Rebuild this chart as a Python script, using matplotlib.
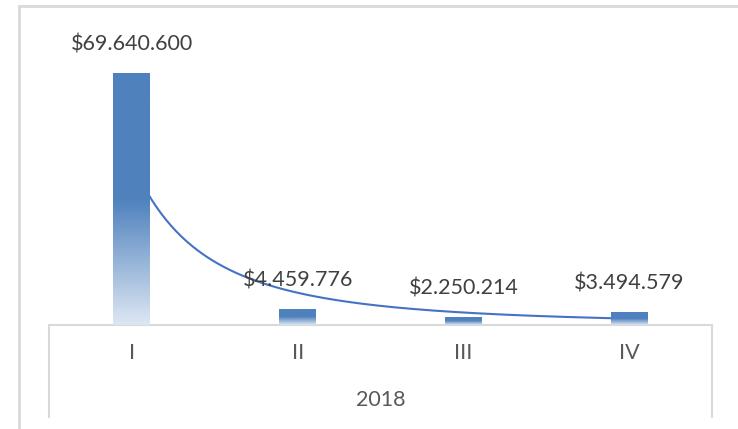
import numpy as np
import matplotlib
matplotlib.use('Agg')
import matplotlib.pyplot as plt
from matplotlib.colors import LinearSegmentedColormap
from matplotlib.lines import Line2D

# quarterly values, 2018
quarters = ['I', 'II', 'III', 'IV']
year_label = '2018'
values = [69640600, 4459776, 2250214, 3494579]
value_labels = ['$69.640.600', '$4.459.776', '$2.250.214', '$3.494.579']

plt.rcParams['font.family'] = ['Lato', 'DejaVu Sans']

W, H = 738, 429
fig = plt.figure(figsize=(W / 100, H / 100), dpi=100)

# plot area: x 49..712 px, y 20..325 px (from top)
ax_left, ax_right, ax_top, ax_bottom = 49, 712, 20, 325
ax = fig.add_axes([ax_left / W, (H - ax_bottom) / H,
                   (ax_right - ax_left) / W, (ax_bottom - ax_top) / H])

x = np.arange(len(quarters))
bar_w = 0.223
ymax = 84.3e6

solid = '#4f81bd'
pale = '#dde7f3'
cmap = LinearSegmentedColormap.from_list('grad', [(0, pale), (0.5, solid), (1, solid)])
grad = np.linspace(0, 1, 256).reshape(-1, 1)

bars = ax.bar(x, values, width=bar_w, color='none', edgecolor='none', zorder=3)
for b in bars:
    x0 = b.get_x()
    h = b.get_height()
    im = ax.imshow(grad, cmap=cmap, origin='lower', aspect='auto',
                   extent=[x0, x0 + b.get_width(), 0, h], zorder=3)
    im.set_clip_path(b)

# power trendline (Excel style), categories numbered 1..4
n = x + 1
coef = np.polyfit(np.log(n), np.log(values), 1)
tx = np.linspace(1, 4, 300)
ty = np.exp(coef[1]) * tx ** coef[0]
ax.plot(tx - 1, ty, color='#4472c4', lw=1.5, zorder=2)

fs = 15.5
for xi, v, lab in zip(x, values, value_labels):
    ax.annotate(lab, (xi, v), xytext=(0, 20.5), textcoords='offset points',
                ha='center', va='center', fontsize=fs, color='#404040', zorder=5)

ax.set_xlim(-0.5, len(quarters) - 0.5)
ax.set_ylim(0, ymax)
ax.set_xticks([])
ax.set_yticks([])
for s in ['top', 'left', 'right', 'bottom']:
    ax.spines[s].set_visible(False)

grey = '#d9d9d9'
frac = ax_bottom - ax_top
box_low = (ax_bottom - 417) / frac
ax.plot([0, 1], [0, 0], transform=ax.transAxes, color=grey, lw=1.5, clip_on=False, zorder=1)
ax.plot([0, 0], [0, box_low], transform=ax.transAxes, color=grey, lw=1.5, clip_on=False)
ax.plot([1, 1], [0, box_low], transform=ax.transAxes, color=grey, lw=1.5, clip_on=False)

for xi, q in zip(x, quarters):
    ax.text(xi, (ax_bottom - 353) / frac, q, transform=ax.get_xaxis_transform(),
            ha='center', va='center', fontsize=fs, color='#595959')
ax.text(0.5, (ax_bottom - 400) / frac, year_label, transform=ax.transAxes,
        ha='center', va='center', fontsize=fs, color='#595959')

# outer chart frame (cropped at right and bottom)
fig.add_artist(Line2D([19 / W, 19 / W], [0, 1 - 6 / H], color=grey, lw=2))
fig.add_artist(Line2D([19 / W, 1], [1 - 6 / H, 1 - 6 / H], color=grey, lw=2))

fig.savefig('out.png', dpi=100)
